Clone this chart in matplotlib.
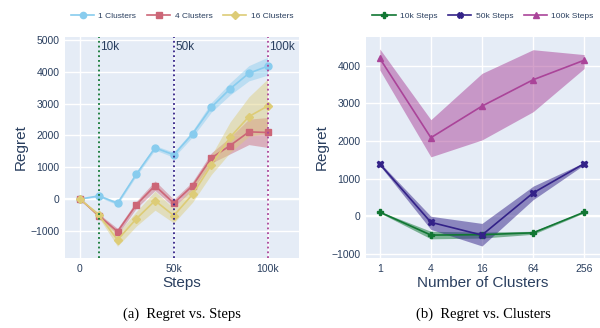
import numpy as np
import matplotlib.pyplot as plt

# data
steps = [0, 10, 20, 30, 40, 50, 60, 70, 80, 90, 100]  # in thousands
c1_mean = [0, 100, -130, 780, 1610, 1390, 2050, 2880, 3460, 3950, 4170]
c1_std = [0, 40, 50, 60, 70, 80, 100, 150, 190, 240, 280]
c4_mean = [0, -520, -1020, -180, 420, -130, 420, 1290, 1680, 2110, 2090]
c4_std = [0, 60, 100, 110, 150, 120, 130, 160, 260, 400, 470]
c16_mean = [0, -500, -1280, -620, -50, -520, 150, 1070, 1940, 2590, 2920]
c16_std = [0, 80, 200, 230, 300, 230, 250, 300, 480, 620, 850]

clusters = ['1', '4', '16', '64', '256']
s10k_mean = [110, -500, -490, -440, 110]
s10k_low = [90, -600, -580, -480, 90]
s10k_high = [130, -400, -420, -400, 130]
s50k_mean = [1390, -160, -500, 620, 1400]
s50k_low = [1350, -350, -790, 440, 1370]
s50k_high = [1430, 0, -190, 800, 1430]
s100k_mean = [4200, 2090, 2930, 3630, 4150]
s100k_low = [3890, 1580, 2030, 2780, 3930]
s100k_high = [4450, 2570, 3800, 4430, 4300]

vlines = [10, 50, 100]
vline_labels = ['10k', '50k', '100k']

# colours (Paul Tol muted)
cyan, rose, sand = '#88CCEE', '#CC6677', '#DDCC77'
green, indigo, purple = '#117733', '#332288', '#AA4499'
txt = '#2a3f5f'
bg = '#E5ECF6'

plt.rcParams['font.family'] = ['Liberation Sans', 'DejaVu Sans']

fig = plt.figure(figsize=(6, 3.28), dpi=100)
ax1 = fig.add_axes([0.1083, 0.2134, 0.39, 0.674])
ax2 = fig.add_axes([0.61, 0.2134, 0.39, 0.674])


def style(ax):
    ax.set_facecolor(bg)
    for sp in ax.spines.values():
        sp.set_visible(False)
    ax.grid(True, color='white', linewidth=1.0)
    ax.set_axisbelow(True)
    ax.tick_params(length=0, labelsize=7.5, labelcolor=txt, pad=4)


# ---- left panel: regret vs steps
style(ax1)
x = np.array(steps)
for m, s, col, mk, lab in [(c1_mean, c1_std, cyan, 'o', '1 Clusters'),
                           (c4_mean, c4_std, rose, 's', '4 Clusters'),
                           (c16_mean, c16_std, sand, 'D', '16 Clusters')]:
    m = np.array(m)
    s = np.array(s)
    ax1.fill_between(x, m - s, m + s, color=col, alpha=0.45, linewidth=0)
    ax1.plot(x, m, color=col, marker=mk, markersize=5 if mk != 'D' else 4,
             linewidth=1.2, label=lab)

for v, lab, col in zip(vlines, vline_labels, [green, indigo, purple]):
    ax1.axvline(v, color=col, linestyle=':', linewidth=1.3)
    ax1.text(v + 0.8, 4950, lab, color=txt, fontsize=8.5, va='top', ha='left')

ax1.set_xlim(-8, 116.7)
ax1.set_ylim(-1850, 5090)
ax1.set_xticks([0, 50, 100])
ax1.set_xticklabels(['0', '50k', '100k'])
ax1.set_yticks([-1000, 0, 1000, 2000, 3000, 4000, 5000])
ax1.set_yticklabels(['\u22121000', '0', '1000', '2000', '3000', '4000', '5000'])
ax1.axhline(0, color='white', linewidth=1.6, zorder=0.5)
ax1.set_xlabel('Steps', fontsize=11, color=txt, labelpad=2)
ax1.set_ylabel('Regret', fontsize=11, color=txt, labelpad=2)
ax1.legend(loc='center', bbox_to_anchor=(0.5, 1.095), ncol=3, frameon=False,
           fontsize=6, labelcolor=txt, handlelength=2.8, columnspacing=1.3,
           handletextpad=0.5, markerscale=0.9)

# ---- right panel: regret vs clusters
style(ax2)
xi = np.arange(len(clusters))
for m, lo, hi, col, mk, lab in [
        (s10k_mean, s10k_low, s10k_high, green, 'P', '10k Steps'),
        (s50k_mean, s50k_low, s50k_high, indigo, 'X', '50k Steps'),
        (s100k_mean, s100k_low, s100k_high, purple, '^', '100k Steps')]:
    ax2.fill_between(xi, lo, hi, color=col, alpha=0.5, linewidth=0)
    ax2.plot(xi, m, color=col, marker=mk, markersize=4.5, linewidth=1.2, label=lab)

ax2.set_xlim(-0.27, 4.31)
ax2.set_ylim(-1110, 4770)
ax2.set_xticks(xi)
ax2.set_xticklabels(clusters)
ax2.set_yticks([-1000, 0, 1000, 2000, 3000, 4000])
ax2.set_yticklabels(['\u22121000', '0', '1000', '2000', '3000', '4000'])
ax2.axhline(0, color='white', linewidth=1.6, zorder=0.5)
ax2.set_xlabel('Number of Clusters', fontsize=11, color=txt, labelpad=2)
ax2.set_ylabel('Regret', fontsize=11, color=txt, labelpad=2)
ax2.legend(loc='center', bbox_to_anchor=(0.5, 1.095), ncol=3, frameon=False,
           fontsize=6, labelcolor=txt, handlelength=2.8, columnspacing=1.3,
           handletextpad=0.5, markerscale=0.9)

# captions
fig.text(0.303, 0.03, '(a)  Regret vs. Steps', fontsize=10.5,
         family=['Liberation Serif', 'DejaVu Serif'], ha='center', color='black')
fig.text(0.805, 0.03, '(b)  Regret vs. Clusters', fontsize=10.5,
         family=['Liberation Serif', 'DejaVu Serif'], ha='center', color='black')

plt.savefig('out.png', dpi=100)
